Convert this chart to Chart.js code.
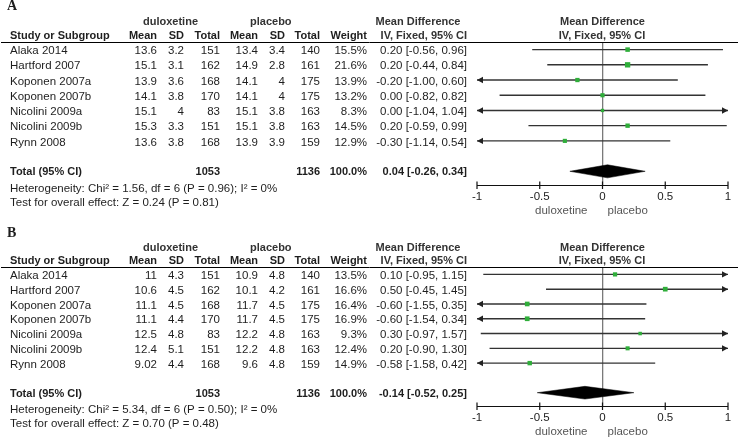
<!DOCTYPE html>
<html><head><meta charset="utf-8">
<script src="https://cdn.jsdelivr.net/npm/chart.js@4"></script>
<style>
html,body{margin:0;padding:0;background:#fff;width:740px;height:442px;overflow:hidden}
.p{position:absolute;left:0;width:740px}
#wa{top:0;height:221px}
#wb{top:225px;height:217px}
canvas{display:block}
</style></head><body>
<div class="p" id="wa"><canvas id="ca" width="740" height="221"></canvas></div>
<div class="p" id="wb"><canvas id="cb" width="740" height="217"></canvas></div>
<script>
// ---------- data ----------
const studies = ['Alaka 2014','Hartford 2007','Koponen 2007a','Koponen 2007b','Nicolini 2009a','Nicolini 2009b','Rynn 2008'];
const axisTicks = [-1, -0.5, 0, 0.5, 1];
const axisTickLabels = ['-1', '-0.5', '0', '0.5', '1'];

// Panel A
const duloMeanA = [13.6, 15.1, 13.9, 14.1, 15.1, 15.3, 13.6];
const duloSdA   = [3.2, 3.1, 3.6, 3.8, 4, 3.3, 3.8];
const duloNA    = [151, 162, 168, 170, 83, 151, 168];
const plaMeanA  = [13.4, 14.9, 14.1, 14.1, 15.1, 15.1, 13.9];
const plaSdA    = [3.4, 2.8, 4, 4, 3.8, 3.8, 3.9];
const plaNA     = [140, 161, 175, 175, 163, 163, 159];
const weightA   = [15.5, 21.6, 13.9, 13.2, 8.3, 14.5, 12.9];
const mdA       = [0.20, 0.20, -0.20, 0.00, 0.00, 0.20, -0.30];
const loA       = [-0.56, -0.44, -1.00, -0.82, -1.04, -0.59, -1.14];
const hiA       = [0.96, 0.84, 0.60, 0.82, 1.04, 0.99, 0.54];
const totalA    = [1053, 1136, 100.0, 0.04, -0.26, 0.34]; // n1, n2, weight, md, lo, hi
const hetA  = 'Heterogeneity: Chi\u00B2 = 1.56, df = 6 (P = 0.96); I\u00B2 = 0%';
const testA = 'Test for overall effect: Z = 0.24 (P = 0.81)';

// Panel B
const duloMeanB = [11, 10.6, 11.1, 11.1, 12.5, 12.4, 9.02];
const duloSdB   = [4.3, 4.5, 4.5, 4.4, 4.8, 5.1, 4.4];
const duloNB    = [151, 162, 168, 170, 83, 151, 168];
const plaMeanB  = [10.9, 10.1, 11.7, 11.7, 12.2, 12.2, 9.6];
const plaSdB    = [4.8, 4.2, 4.5, 4.5, 4.8, 4.8, 4.8];
const plaNB     = [140, 161, 175, 175, 163, 163, 159];
const weightB   = [13.5, 16.6, 16.4, 16.9, 9.3, 12.4, 14.9];
const mdB       = [0.10, 0.50, -0.60, -0.60, 0.30, 0.20, -0.58];
const loB       = [-0.95, -0.45, -1.55, -1.54, -0.97, -0.90, -1.58];
const hiB       = [1.15, 1.45, 0.35, 0.34, 1.57, 1.30, 0.42];
const totalB    = [1053, 1136, 100.0, -0.14, -0.52, 0.25];
const hetB  = 'Heterogeneity: Chi\u00B2 = 5.34, df = 6 (P = 0.50); I\u00B2 = 0%';
const testB = 'Test for overall effect: Z = 0.70 (P = 0.48)';

// ---------- drawing ----------
const FAM = '"Liberation Sans", Arial, sans-serif';
const REG = '11.5px ' + FAM;
const BOLD = 'bold 11px ' + FAM;
const TXT = '#1e1e1e';
const TOTAL_ROW = 8;

function fmtCI(md, lo, hi){ return md.toFixed(2) + ' [' + lo.toFixed(2) + ', ' + hi.toFixed(2) + ']'; }

const forestPlugin = {
  id: 'forest',
  afterDatasetsDraw(chart, args, o){
    const ctx = chart.ctx, xs = chart.scales.x, ys = chart.scales.y, ca = chart.chartArea;
    const P = o.panel;
    ctx.save();
    // arrows for clipped confidence intervals
    ctx.fillStyle = '#222';
    P.lo.forEach((lo, i) => {
      const y = ys.getPixelForValue(i);
      if (lo <= xs.min) {
        const x0 = xs.getPixelForValue(xs.min);
        ctx.beginPath(); ctx.moveTo(x0, y); ctx.lineTo(x0 + 6, y - 3.2); ctx.lineTo(x0 + 6, y + 3.2); ctx.closePath(); ctx.fill();
      }
      if (P.hi[i] >= xs.max) {
        const x1 = xs.getPixelForValue(xs.max);
        ctx.beginPath(); ctx.moveTo(x1, y); ctx.lineTo(x1 - 6, y - 3.2); ctx.lineTo(x1 - 6, y + 3.2); ctx.closePath(); ctx.fill();
      }
    });
    // axis line with crossing ticks
    ctx.strokeStyle = '#111'; ctx.lineWidth = 1.2;
    ctx.beginPath();
    ctx.moveTo(xs.getPixelForValue(xs.min), ca.bottom + 0.5);
    ctx.lineTo(xs.getPixelForValue(xs.max), ca.bottom + 0.5);
    axisTicks.forEach(t => {
      const x = xs.getPixelForValue(t);
      ctx.moveTo(x, ca.bottom - 3.5); ctx.lineTo(x, ca.bottom + 4);
    });
    ctx.stroke();
    ctx.restore();
  },
  afterDraw(chart, args, o){
    const ctx = chart.ctx, xs = chart.scales.x, ys = chart.scales.y, ca = chart.chartArea;
    const P = o.panel;
    const Y = r => ys.getPixelForValue(r);
    const x0 = xs.getPixelForValue(0);
    ctx.save();
    ctx.textBaseline = 'middle';
    ctx.fillStyle = TXT;
    // panel letter
    ctx.font = 'bold 14px "Liberation Serif", "Times New Roman", serif';
    ctx.textAlign = 'left';
    ctx.fillText(P.label, 7, P.labelY);
    // group headers
    ctx.font = BOLD;
    ctx.fillStyle = '#333';
    ctx.fillText('duloxetine', 143, Y(-1.8));
    ctx.fillText('placebo', 250, Y(-1.8));
    ctx.textAlign = 'center';
    ctx.fillText('Mean Difference', 418, Y(-1.8));
    ctx.fillText('Mean Difference', x0, Y(-1.8));
    ctx.fillText('IV, Fixed, 95% CI', 602, Y(-0.9));
    ctx.textAlign = 'right';
    ctx.fillText('IV, Fixed, 95% CI', 467, Y(-0.9));
    // column headers
    ctx.fillStyle = TXT;
    ctx.textAlign = 'left';
    ctx.fillText('Study or Subgroup', 10, Y(-0.9));
    ctx.textAlign = 'right';
    const colX = [157, 184, 220, 258, 285, 320, 367];
    const heads = ['Mean', 'SD', 'Total', 'Mean', 'SD', 'Total', 'Weight'];
    heads.forEach((h, k) => ctx.fillText(h, colX[k], Y(-0.9)));
    // header rule
    ctx.strokeStyle = '#000'; ctx.lineWidth = 1;
    ctx.beginPath(); ctx.moveTo(1, Math.round(ca.top) + 0.5); ctx.lineTo(738, Math.round(ca.top) + 0.5); ctx.stroke();
    // study rows
    ctx.font = REG;
    studies.forEach((s, i) => {
      const y = Y(i) + 1.5;
      ctx.textAlign = 'left';
      ctx.fillText(s, 10, y);
      ctx.textAlign = 'right';
      const vals = [String(P.m1[i]), String(P.s1[i]), String(P.n1[i]), String(P.m2[i]), String(P.s2[i]), String(P.n2[i]), P.w[i].toFixed(1) + '%'];
      vals.forEach((v, k) => ctx.fillText(v, colX[k], y));
      ctx.fillText(fmtCI(P.md[i], P.lo[i], P.hi[i]), 467, y);
    });
    // total row
    const t = P.total, yt = Y(TOTAL_ROW) + 1;
    ctx.font = BOLD;
    ctx.textAlign = 'left';
    ctx.fillText('Total (95% CI)', 10, yt);
    ctx.textAlign = 'right';
    ctx.fillText(String(t[0]), 220, yt);
    ctx.fillText(String(t[1]), 320, yt);
    ctx.fillText(t[2].toFixed(1) + '%', 367, yt);
    ctx.fillText(fmtCI(t[3], t[4], t[5]), 467, yt);
    // heterogeneity / overall effect
    ctx.font = REG;
    ctx.textAlign = 'left';
    ctx.fillText(P.het, 10, Y(9.15));
    ctx.fillText(P.test, 10, Y(10.1));
    // favours labels
    ctx.fillStyle = '#555';
    ctx.textAlign = 'right';
    ctx.fillText('duloxetine', x0 - 15, ca.bottom + 26);
    ctx.textAlign = 'left';
    ctx.fillText('placebo', x0 + 5, ca.bottom + 26);
    ctx.restore();
  }
};

function makePanel(canvasId, P){
  const markerData = P.md.map((m, i) => ({x: m, y: i}));
  const markerRadius = P.w.map(w => 1.15 * Math.sqrt(w) / Math.SQRT2);
  const t = P.total;
  const dh = 0.43;
  const diamond = [
    {x: t[4], y: TOTAL_ROW}, {x: t[3], y: TOTAL_ROW - dh},
    {x: t[5], y: TOTAL_ROW}, {x: t[3], y: TOTAL_ROW + dh}, {x: t[4], y: TOTAL_ROW}
  ];
  const ciSets = P.lo.map((lo, i) => ({
    type: 'line',
    data: [{x: lo, y: i}, {x: P.hi[i], y: i}],
    borderColor: '#333', borderWidth: 1.4, pointRadius: 0, clip: 0, fill: false
  }));
  new Chart(document.getElementById(canvasId), {
    type: 'scatter',
    data: {
      datasets: [
        { type: 'scatter', data: markerData, pointStyle: 'rect', pointRadius: markerRadius,
          backgroundColor: '#2fae3a', borderWidth: 0, pointBorderWidth: 0, clip: false },
        { type: 'line', data: diamond, fill: 'shape', backgroundColor: '#000', borderColor: '#000',
          borderWidth: 0.5, pointRadius: 0, tension: 0, clip: false },
        ...ciSets
      ]
    },
    options: {
      responsive: false, animation: false, devicePixelRatio: 1,
      layout: { padding: { left: 477, right: 12, top: 42, bottom: 6 } },
      plugins: { legend: { display: false }, tooltip: { enabled: false }, forest: { panel: P } },
      scales: {
        x: {
          type: 'linear', min: -1, max: 1,
          afterFit: s => { s.height = 30; },
          afterBuildTicks: s => { s.ticks = axisTicks.map(v => ({value: v})); },
          ticks: { color: '#222', font: { size: 11.5, family: FAM }, padding: 5, maxRotation: 0, autoSkip: false,
                   callback: (v) => { const k = axisTicks.indexOf(v); return k >= 0 ? axisTickLabels[k] : String(v); } },
          grid: { drawTicks: false, color: c => (c.tick && c.tick.value === 0) ? '#7a7a7a' : 'rgba(0,0,0,0)', lineWidth: 1.3 },
          border: { display: false }
        },
        y: { type: 'linear', reverse: true, min: -0.5, max: 8.9, display: false }
      }
    },
    plugins: [forestPlugin]
  });
}

makePanel('ca', { label: 'A', labelY: 6, m1: duloMeanA, s1: duloSdA, n1: duloNA, m2: plaMeanA, s2: plaSdA, n2: plaNA,
  w: weightA, md: mdA, lo: loA, hi: hiA, total: totalA, het: hetA, test: testA });
makePanel('cb', { label: 'B', labelY: 8, m1: duloMeanB, s1: duloSdB, n1: duloNB, m2: plaMeanB, s2: plaSdB, n2: plaNB,
  w: weightB, md: mdB, lo: loB, hi: hiB, total: totalB, het: hetB, test: testB });
</script>
</body></html>
